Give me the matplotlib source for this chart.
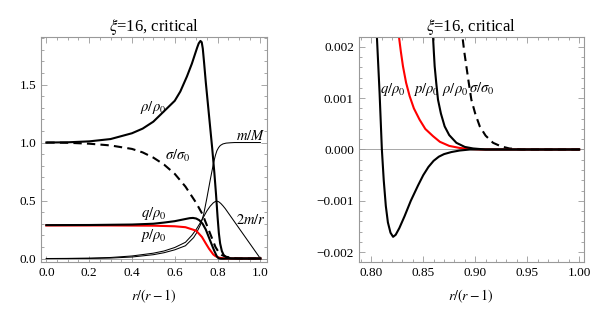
import matplotlib
matplotlib.use("Agg")
import matplotlib.pyplot as plt
from matplotlib.ticker import MultipleLocator, FuncFormatter

plt.rcParams['font.family'] = ['Liberation Serif', 'DejaVu Serif']
plt.rcParams['mathtext.fontset'] = 'stix'
plt.rcParams['font.size'] = 9.5

# --- data (x = r/(r-1)) ---
rho_x = [0.0, 0.1, 0.2, 0.3, 0.4, 0.45, 0.5, 0.55, 0.6, 0.626, 0.657, 0.68, 0.696, 0.705,
         0.712, 0.72, 0.726, 0.731, 0.737, 0.745, 0.755, 0.765, 0.775, 0.785, 0.793, 0.8,
         0.806, 0.812, 0.82, 0.828, 0.837, 0.845, 0.852, 0.8565, 0.8594, 0.8602, 0.861,
         0.8625, 0.8642, 0.867, 0.8706, 0.875, 0.8819, 0.89, 0.898, 0.91, 1.0]
rho_y = [1.0, 1.002, 1.01, 1.03, 1.08, 1.12, 1.18, 1.27, 1.36, 1.44, 1.57, 1.68, 1.77, 1.82,
         1.855, 1.876, 1.865, 1.81, 1.69, 1.52, 1.33, 1.14, 0.95, 0.74, 0.55, 0.36,
         0.22, 0.13, 0.065, 0.032, 0.016, 0.01, 0.0055, 0.0033, 0.0022, 0.0019, 0.00162,
         0.0013, 0.00097, 0.0007, 0.00045, 0.00028, 0.00013, 0.00005, 0.00002, 0.0, 0.0]

sig_x = [0.0, 0.1, 0.2, 0.3, 0.4, 0.45, 0.5, 0.55, 0.6, 0.65, 0.7, 0.73, 0.76, 0.79, 0.805,
         0.82, 0.84, 0.86, 0.875, 0.8877, 0.8895, 0.8915, 0.8938, 0.8963, 0.9, 0.9044, 0.91,
         0.9172, 0.925, 0.933, 0.945, 1.0]
sig_y = [1.0, 0.998, 0.99, 0.975, 0.945, 0.915, 0.87, 0.81, 0.73, 0.62, 0.48, 0.38, 0.24, 0.1, 0.055,
         0.03, 0.015, 0.008, 0.0045, 0.0022, 0.0019, 0.00162, 0.0013, 0.00097, 0.0007, 0.00045, 0.00027,
         0.00013, 0.00006, 0.00002, 0.0, 0.0]

q_x = [0.0, 0.2, 0.4, 0.5, 0.55, 0.6, 0.64, 0.67, 0.685, 0.7, 0.715, 0.73, 0.745, 0.76, 0.775,
       0.785, 0.795, 0.8, 0.8054, 0.808, 0.8102, 0.812, 0.814, 0.816, 0.8185, 0.821, 0.8235,
       0.827, 0.832, 0.838, 0.845, 0.85, 0.855, 0.86, 0.865, 0.87, 0.877, 0.885, 0.895, 1.0]
q_y = [0.288, 0.289, 0.293, 0.30, 0.31, 0.322, 0.337, 0.348, 0.35, 0.345, 0.33, 0.30, 0.25, 0.18,
       0.11, 0.065, 0.025, 0.01, 0.0022, 0.0011, 0.0, -0.0006, -0.0011, -0.00142, -0.00162,
       -0.0017, -0.00166, -0.00153, -0.0013, -0.001, -0.0007, -0.0005, -0.00034, -0.00022,
       -0.00014, -0.00009, -0.00005, -0.00002, 0.0, 0.0]

p_x = [0.0, 0.3, 0.5, 0.6, 0.65, 0.7, 0.727, 0.745, 0.76, 0.78, 0.79, 0.8, 0.81, 0.82, 0.8266,
       0.8285, 0.8305, 0.8335, 0.8369, 0.841, 0.8465, 0.852, 0.8594, 0.866, 0.875, 0.885,
       0.895, 0.905, 1.0]
p_y = [0.285, 0.285, 0.283, 0.278, 0.27, 0.24, 0.186, 0.13, 0.085, 0.035, 0.021, 0.012, 0.0065,
       0.0035, 0.0022, 0.0019, 0.00162, 0.0013, 0.00104, 0.0008, 0.00058, 0.0004, 0.00026,
       0.00015, 0.00007, 0.00003, 0.00001, 0.0, 0.0]

mM_x = [0.0, 0.1, 0.2, 0.3, 0.4, 0.5, 0.55, 0.6, 0.65, 0.688, 0.7, 0.72, 0.735, 0.75, 0.766,
        0.782, 0.79, 0.797, 0.805, 0.813, 0.825, 0.84, 0.86, 0.88, 1.0]
mM_y = [0.0, 0.0, 0.001, 0.004, 0.013, 0.033, 0.05, 0.075, 0.11, 0.18, 0.215, 0.29, 0.38, 0.52,
        0.68, 0.83, 0.89, 0.93, 0.957, 0.975, 0.988, 0.995, 0.998, 1.0, 1.0]

tmr_x = [0.0, 0.1, 0.2, 0.3, 0.4, 0.5, 0.55, 0.6, 0.65, 0.68, 0.7, 0.72, 0.735, 0.75, 0.765,
         0.78, 0.79, 0.797, 0.805, 0.815, 0.825, 0.836, 0.9, 0.95, 1.0]
tmr_y = [0.0, 0.001, 0.003, 0.009, 0.022, 0.046, 0.065, 0.095, 0.14, 0.2, 0.25, 0.31, 0.36, 0.41,
         0.45, 0.48, 0.492, 0.494, 0.49, 0.475, 0.455, 0.43, 0.262, 0.131, 0.0]

title = r'$\xi$=16, critical'
xlab = r'$r/(r-1)$'
frame_c = '#999999'
lab_fs = 10.5


def style(ax):
    for s in ax.spines.values():
        s.set_color(frame_c)
        s.set_linewidth(0.8)
    ax.tick_params(which='both', direction='in', top=True, right=True,
                   color=frame_c, width=0.6)
    ax.tick_params(which='major', length=4, pad=3.5)
    ax.tick_params(which='minor', length=2)
    ax.axhline(0, color=frame_c, lw=0.6, zorder=0)
    ax.set_title(title, fontsize=12, pad=4)
    ax.set_xlabel(xlab, fontsize=10, labelpad=6)


fig = plt.figure(figsize=(6, 3.14), dpi=100)
ax1 = fig.add_axes([0.0683, 0.1656, 0.3767, 0.7166])
ax2 = fig.add_axes([0.598, 0.1656, 0.375, 0.7166])

# left panel
ax1.plot(mM_x, mM_y, color='black', lw=0.75)
ax1.plot(tmr_x, tmr_y, color='black', lw=0.75)
ax1.plot(sig_x, sig_y, color='black', lw=1.5, dashes=(4, 2.5))
ax1.plot(p_x, p_y, color='red', lw=1.5)
ax1.plot(q_x, q_y, color='black', lw=1.5)
ax1.plot(rho_x, rho_y, color='black', lw=1.5)

ax1.text(0.50, 1.30, r'$\rho/\rho_0$', ha='center', va='center', fontsize=lab_fs)
ax1.text(0.615, 0.885, r'$\sigma/\sigma_0$', ha='center', va='center', fontsize=lab_fs)
ax1.text(0.955, 1.055, r'$m/M$', ha='center', va='center', fontsize=lab_fs)
ax1.text(0.50, 0.39, r'$q/\rho_0$', ha='center', va='center', fontsize=lab_fs)
ax1.text(0.50, 0.20, r'$p/\rho_0$', ha='center', va='center', fontsize=lab_fs)
ax1.text(0.957, 0.33, r'$2m/r$', ha='center', va='center', fontsize=lab_fs)

ax1.set_xlim(-0.025, 1.031)
ax1.set_ylim(-0.03, 1.91)
ax1.xaxis.set_major_locator(MultipleLocator(0.2))
ax1.xaxis.set_minor_locator(MultipleLocator(0.05))
ax1.yaxis.set_major_locator(MultipleLocator(0.5))
ax1.yaxis.set_minor_locator(MultipleLocator(0.1))
ax1.xaxis.set_major_formatter(FuncFormatter(lambda v, _: f'{v:.1f}'))
ax1.yaxis.set_major_formatter(FuncFormatter(lambda v, _: f'{v:.1f}'))
style(ax1)

# right panel (zoom on the tails)
ax2.plot(sig_x, sig_y, color='black', lw=1.5, dashes=(4, 2.5))
ax2.plot(p_x, p_y, color='red', lw=1.5)
ax2.plot(rho_x, rho_y, color='black', lw=1.5)
ax2.plot(q_x, q_y, color='black', lw=1.5)

ax2.text(0.8209, 0.00117, r'$q/\rho_0$', ha='center', va='center', fontsize=lab_fs)
ax2.text(0.853, 0.00117, r'$p/\rho_0$', ha='center', va='center', fontsize=lab_fs)
ax2.text(0.8805, 0.00117, r'$\rho/\rho_0$', ha='center', va='center', fontsize=lab_fs)
ax2.text(0.9065, 0.00117, r'$\sigma/\sigma_0$', ha='center', va='center', fontsize=lab_fs)

ax2.set_xlim(0.788, 1.0045)
ax2.set_ylim(-0.00219, 0.00219)
ax2.xaxis.set_major_locator(MultipleLocator(0.05))
ax2.xaxis.set_minor_locator(MultipleLocator(0.01))
ax2.yaxis.set_major_locator(MultipleLocator(0.001))
ax2.yaxis.set_minor_locator(MultipleLocator(0.0002))
ax2.xaxis.set_major_formatter(FuncFormatter(lambda v, _: f'{v:.2f}'))
ax2.yaxis.set_major_formatter(
    FuncFormatter(lambda v, _: f'{v:.3f}'.replace('-', '\u2212') if abs(v) > 1e-9 else '0.000'))
style(ax2)

fig.savefig('out.png', dpi=100)
